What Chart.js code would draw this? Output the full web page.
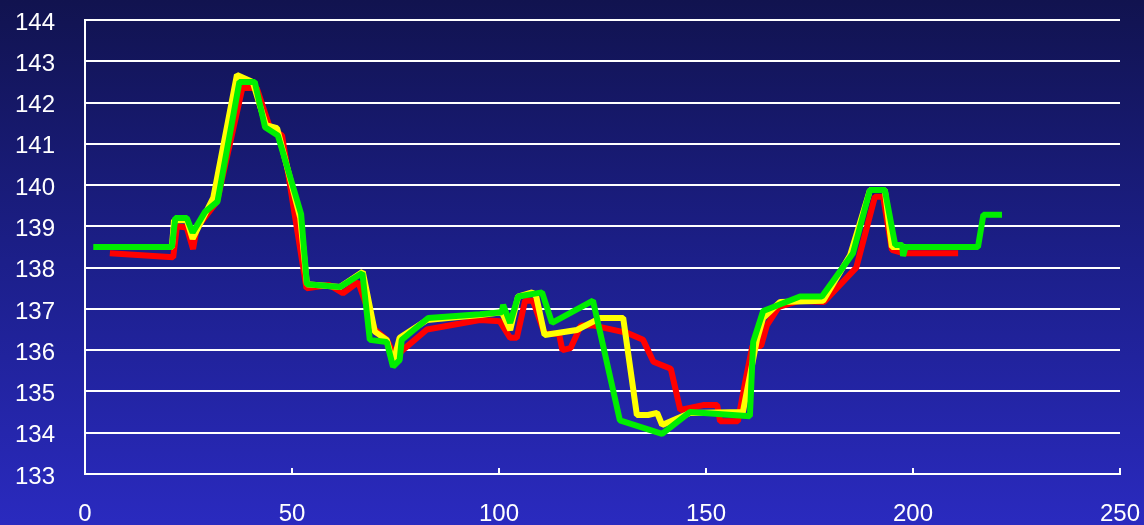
<!DOCTYPE html>
<html lang="ja">
<head>
<meta charset="UTF-8">
<title>Line chart</title>
<script src="https://cdn.jsdelivr.net/npm/chart.js"></script>
<style>
html, body {
  margin:0;
  padding:0;
  background: linear-gradient(to bottom, #11134f 0%, #1c1f8a 50%, #2a2abf 100%);
}
#wrap { width:1144px; height:525px; }
</style>
</head>
<body>
<div id="wrap"><canvas id="myChart" width="1144" height="525"></canvas></div>

<script>
// axis ticks
const xTicks = [0, 50, 100, 150, 200, 250];
const yTicks = [133, 134, 135, 136, 137, 138, 139, 140, 141, 142, 143, 144];

// red series
const redX = [6, 21.3, 22.2, 24.6, 26.1, 27, 31.9, 38, 41.5, 44.7, 47.6, 53.5, 59, 62.3, 66, 70, 72.9, 74.9, 77.3, 82.6,
  95.4, 100.2, 102.7, 104.3, 106.3, 108.2, 111, 114.5, 115.3, 117.3, 119.8, 122.7, 130.9, 134.8, 137.3, 141.5, 143.8,
  149.3, 152.7, 153.4, 157.7, 159.6, 161.2, 163.3, 164.7, 167.6, 172.7, 178.5, 186.3, 190.8, 192.8, 194.9, 197.6, 210.9];
const redY = [138.35, 138.25, 139.0, 138.97, 138.45, 138.97, 139.6, 142.35, 142.35, 141.38, 141.2, 137.5, 137.58, 137.38, 137.65, 136.5, 136.25, 135.83, 136.05, 136.5,
  136.73, 136.7, 136.3, 136.3, 137.2, 137.2, 136.4, 136.4, 136.0, 136.05, 136.6, 136.6, 136.42, 136.25, 135.72, 135.55, 134.55,
  134.67, 134.67, 134.28, 134.28, 135.3, 136.1, 136.1, 136.6, 137.05, 137.2, 137.17, 138.0, 139.72, 139.72, 138.43, 138.35, 138.35];

// yellow series
const yellowX = [3, 21, 21.5, 24.6, 26, 29, 31, 36.7, 40.5, 43.7, 46.4, 52, 53.6, 61.6, 67.1, 70, 72.9, 74.4, 76, 82.6,
  95.4, 100.7, 102.7, 104.6, 108, 109, 111, 118.8, 122.5, 124.4, 130, 133.3, 136, 138.2, 139.4, 146.1, 158.9,
  162.3, 163.8, 167.9, 178.3, 184.8, 189.6, 193.2, 194.9, 210];
const yellowY = [138.5, 138.5, 139.15, 139.15, 138.7, 139.3, 139.7, 142.67, 142.5, 141.45, 141.38, 139.2, 137.6, 137.53, 137.9, 136.45, 136.25, 135.67, 136.3, 136.73,
  136.85, 136.92, 136.49, 137.3, 137.4, 137.3, 136.37, 136.49, 136.68, 136.78, 136.78, 134.43, 134.43, 134.48, 134.19, 134.48, 134.5,
  136.25, 136.78, 137.17, 137.2, 138.3, 139.88, 139.88, 138.5, 138.5];

// green series
const greenX = [2, 21, 21.8, 24.6, 26, 29, 32, 37.3, 41, 43.5, 46.6, 52.2, 53.6, 61.6, 67, 68.8, 72.9, 74.4, 76, 76.5, 82.9,
  95.4, 100.7, 101, 102.7, 104.6, 110.4, 112.8, 122.7, 129.2, 139.4, 146.1, 160.6, 161.4, 163.8, 172.7, 178,
  185.5, 189.6, 193.2, 195.7, 197.4, 197.6, 198.2, 215.7, 217, 221.5];
const greenY = [138.5, 138.5, 139.2, 139.2, 138.85, 139.35, 139.6, 142.5, 142.5, 141.4, 141.2, 139.3, 137.6, 137.53, 137.87, 136.25, 136.2, 135.6, 135.76, 136.25, 136.78,
  136.87, 136.92, 137.1, 136.66, 137.3, 137.4, 136.66, 137.2, 134.3, 133.97, 134.5, 134.4, 136.2, 136.95, 137.3, 137.3,
  138.35, 139.88, 139.88, 138.55, 138.55, 138.28, 138.5, 138.5, 139.28, 139.28];

function pts(xs, ys) {
  return xs.map((x, i) => ({x: x, y: ys[i]}));
}

// small inner tick marks on the x axis
const innerTicks = {
  id: 'innerTicks',
  afterDatasetsDraw(chart) {
    const c = chart.ctx;
    const xs = chart.scales.x;
    const bottom = chart.chartArea.bottom;
    c.save();
    c.strokeStyle = '#ffffff';
    c.lineWidth = 2;
    xTicks.forEach(v => {
      const px = Math.round(xs.getPixelForValue(v));
      c.beginPath();
      c.moveTo(px, bottom);
      c.lineTo(px, bottom - 6);
      c.stroke();
    });
    c.restore();
  }
};

const ctx = document.getElementById('myChart').getContext('2d');
new Chart(ctx, {
  type: 'line',
  data: {
    datasets: [
      { label: 'green', data: pts(greenX, greenY), borderColor: '#00ee00', borderWidth: 6, order: 1 },
      { label: 'yellow', data: pts(yellowX, yellowY), borderColor: '#ffff00', borderWidth: 6, order: 2 },
      { label: 'red', data: pts(redX, redY), borderColor: '#ff0000', borderWidth: 6, order: 3 }
    ]
  },
  options: {
    responsive: false,
    animation: false,
    layout: { padding: { top: 20, right: 24, left: 0, bottom: 0 } },
    elements: {
      point: { radius: 0 },
      line: { tension: 0, fill: false, borderJoinStyle: 'bevel', borderCapStyle: 'butt' }
    },
    plugins: { legend: { display: false }, tooltip: { enabled: false } },
    scales: {
      x: {
        type: 'linear',
        min: 0, max: 250,
        afterBuildTicks: s => { s.ticks = xTicks.map(v => ({value: v})); },
        afterFit: s => { s.height = 51; s.paddingLeft = 0; s.paddingRight = 0; },
        grid: { display: false },
        border: { color: '#ffffff', width: 2 },
        ticks: { color: '#ffffff', padding: 18, font: { family: 'Liberation Sans', size: 24 } }
      },
      y: {
        min: 133, max: 144,
        afterBuildTicks: s => { s.ticks = yTicks.map(v => ({value: v})); },
        afterFit: s => { s.width = 85; s.paddingTop = 0; s.paddingBottom = 0; },
        grid: { color: '#ffffff', lineWidth: 2, tickLength: 0 },
        border: { color: '#ffffff', width: 2 },
        ticks: { color: '#ffffff', padding: 30, labelOffset: 3, font: { family: 'Liberation Sans', size: 24 } }
      }
    }
  },
  plugins: [innerTicks]
});
</script>
</body>
</html>
